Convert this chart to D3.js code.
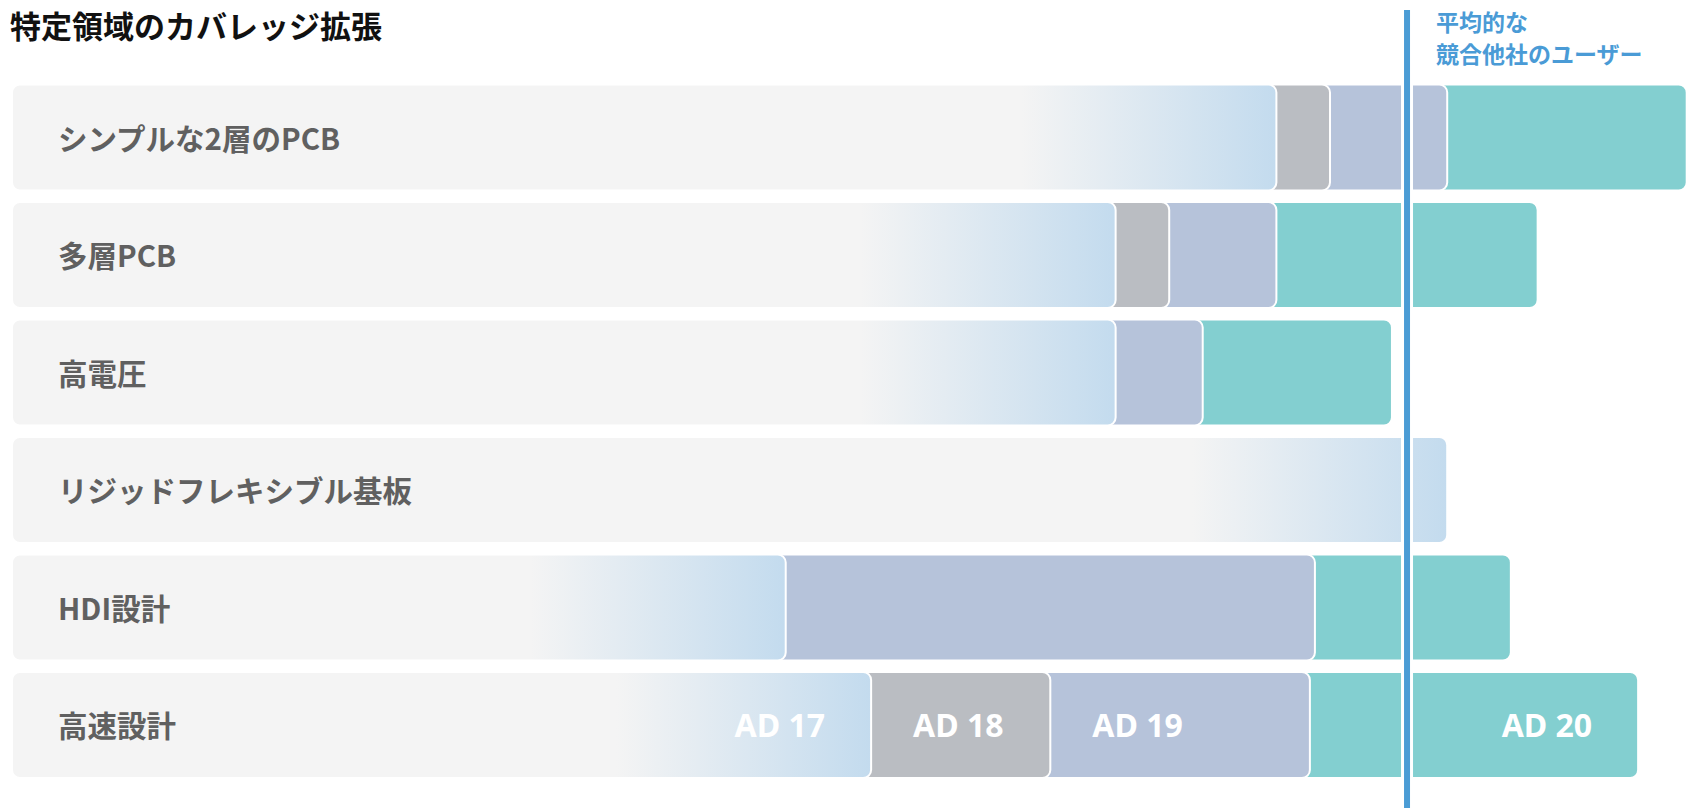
<!DOCTYPE html>
<html>
<head>
<meta charset="utf-8">
<script src="https://cdn.jsdelivr.net/npm/d3@7"></script>
<style>
	body { margin: 0; background: #fff; }
	svg { display: block; }
	.rowLabel { font-family: "Noto Sans CJK JP", sans-serif; font-weight: 700; }
	.verLabel { font-family: "Noto Sans", sans-serif; font-weight: 700; }
</style>
</head>
<body>
<div id="chart"></div>
<script>
var categories = ["シンプルな2層のPCB", "多層PCB", "高電圧", "リジッドフレキシブル基板", "HDI設計", "高速設計"];
var versions = ["AD 17", "AD 18", "AD 19", "AD 20"];

// coverage added by each release (AD 20 of the first row = 100)
var ad17 = [75.5, 65.9, 65.9, 85.7, 46.2, 51.3];
var ad18 = [3.2, 3.2, 0, 0, 0, 10.7];
var ad19 = [7.0, 6.4, 5.2, 0, 31.6, 15.5];
var ad20 = [14.3, 15.6, 11.3, 0, 11.7, 19.6];

var competitorAvg = 83.3;
var competitorLabel = ["平均的な", "競合他社のユーザー"];
var title = "特定領域のカバレッジ拡張";

var colors = ["#c3dbee", "#babdc2", "#b6c3da", "#83cfd0"];

var width = 1696,
	height = 808;

var svg = d3.select("#chart")
	.append("svg")
	.attr("width", width)
	.attr("height", height);

var x = d3.scaleLinear().domain([0, 100]).range([12, 1686.7]);
var y = d3.scaleBand().domain(categories).range([84.5, 778]).paddingInner(0.098).paddingOuter(0);

var data = categories.map(function(c, i){
	var vals = [ad17[i], ad18[i], ad19[i], ad20[i]];
	var acc = 0;
	var segs = vals.map(function(v, j){
		var s = {version: versions[j], idx: j, start: acc, end: acc + v, value: v};
		acc += v;
		return s;
	});
	return {name: c, row: i, segs: segs};
});

var defs = svg.append("defs");

data.forEach(function(d){
	var end = x(d.segs[0].end);
	var grad = defs.append("linearGradient")
		.attr("id", "fade" + d.row)
		.attr("gradientUnits", "userSpaceOnUse")
		.attr("x1", end - 255)
		.attr("x2", end)
		.attr("y1", 0)
		.attr("y2", 0);
	grad.append("stop").attr("offset", 0).attr("stop-color", "#f4f4f4");
	grad.append("stop").attr("offset", 1).attr("stop-color", colors[0]);
});

var rows = svg.selectAll(".row")
	.data(data).enter()
	.append("g")
	.attr("class", "row")
	.attr("transform", function(d){return "translate(0," + y(d.name) + ")"});

// later releases underneath, so each earlier one covers it with its rounded end
rows.selectAll(".seg")
	.data(function(d){
		return d.segs.filter(function(s){return s.idx == 0 || s.value > 0}).reverse()
			.map(function(s){ s.row = d.row; return s; });
	}).enter()
	.append("rect")
	.attr("class", "seg")
	.attr("x", x(0))
	.attr("y", 0)
	.attr("width", function(s){return x(s.end) - x(0)})
	.attr("height", y.bandwidth())
	.attr("rx", 8)
	.attr("ry", 8)
	.attr("fill", function(s){return s.idx == 0 ? "url(#fade" + s.row + ")" : colors[s.idx]})
	.attr("stroke", "#fff")
	.attr("stroke-width", 2);

rows.append("text")
	.attr("class", "rowLabel")
	.attr("x", 58)
	.attr("y", y.bandwidth() / 2 + 12.5)
	.attr("font-size", 29.5)
	.attr("fill", "#606060")
	.text(function(d){return d.name});

// version labels on the last row
var last = data[data.length - 1];
svg.append("g")
	.attr("transform", "translate(0," + y(last.name) + ")")
	.selectAll(".verLabel")
	.data(last.segs).enter()
	.append("text")
	.attr("class", "verLabel")
	.attr("font-size", 32)
	.attr("fill", "#fff")
	.attr("y", y.bandwidth() / 2 + 12.5)
	.attr("text-anchor", function(s){return (s.idx == 0 || s.idx == 3) ? "end" : "start"})
	.attr("x", function(s){return (s.idx == 0 || s.idx == 3) ? x(s.end) - 46 : x(s.start) + 42})
	.text(function(s){return s.version});

// average competitor line
svg.append("line")
	.attr("x1", x(competitorAvg)).attr("x2", x(competitorAvg))
	.attr("y1", 10).attr("y2", height)
	.attr("stroke", "#fff")
	.attr("stroke-width", 12);

svg.append("line")
	.attr("x1", x(competitorAvg)).attr("x2", x(competitorAvg))
	.attr("y1", 10).attr("y2", height)
	.attr("stroke", "#4b9cd5")
	.attr("stroke-width", 6);

svg.append("g")
	.selectAll("text")
	.data(competitorLabel).enter()
	.append("text")
	.attr("class", "rowLabel")
	.attr("x", x(competitorAvg) + 29)
	.attr("y", function(d, i){return 31 + i * 32})
	.attr("font-size", 23)
	.attr("fill", "#4a9bd6")
	.text(function(d){return d});

svg.append("text")
	.attr("class", "rowLabel")
	.attr("x", 10)
	.attr("y", 38)
	.attr("font-size", 31)
	.attr("fill", "#111")
	.text(title);
</script>
</body>
</html>
